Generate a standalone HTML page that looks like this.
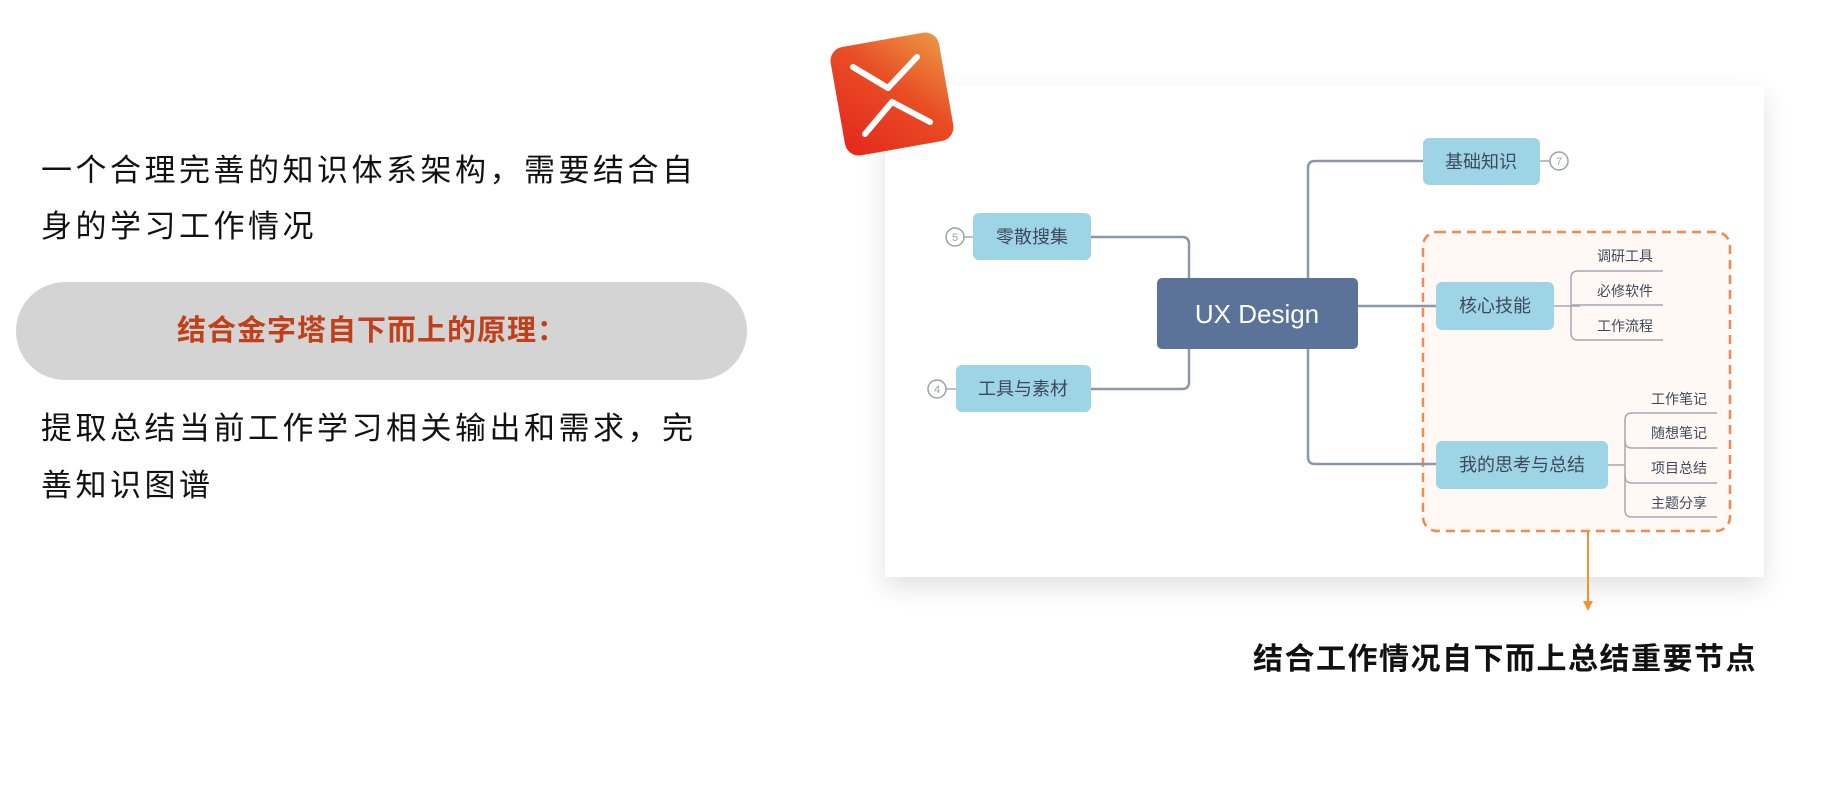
<!DOCTYPE html>
<html><head><meta charset="utf-8"><style>
body{margin:0;width:1848px;height:806px;background:#fff;overflow:hidden;position:relative;font-family:"Liberation Sans","Noto Sans CJK SC",sans-serif;}
.t{position:absolute;left:41px;font-size:31px;color:#111;white-space:nowrap;line-height:40px;}
.t span{display:inline-block;width:34.5px;}
.pill{position:absolute;left:16px;top:282px;width:731px;height:98px;border-radius:49px;background:#d4d4d4;}
.pt{position:absolute;left:177px;top:311px;font-size:29px;font-weight:bold;color:#c0401a;white-space:nowrap;line-height:40px;}
.pt span{display:inline-block;width:30px;}
.bt span{display:inline-block;width:31.5px;}
.card{position:absolute;left:885px;top:85px;width:879px;height:492px;background:#fff;box-shadow:0 10px 24px rgba(0,0,0,0.12);}
.bt{position:absolute;left:1253px;top:640px;font-size:30px;font-weight:bold;color:#111;white-space:nowrap;line-height:40px;}
</style></head><body>
<div class="t" style="top:151px"><span>一</span><span>个</span><span>合</span><span>理</span><span>完</span><span>善</span><span>的</span><span>知</span><span>识</span><span>体</span><span>系</span><span>架</span><span>构</span><span>，</span><span>需</span><span>要</span><span>结</span><span>合</span><span>自</span></div>
<div class="t" style="top:207px"><span>身</span><span>的</span><span>学</span><span>习</span><span>工</span><span>作</span><span>情</span><span>况</span></div>
<div class="pill"></div>
<div class="pt"><span>结</span><span>合</span><span>金</span><span>字</span><span>塔</span><span>自</span><span>下</span><span>而</span><span>上</span><span>的</span><span>原</span><span>理</span><span>：</span></div>
<div class="t" style="top:409px"><span>提</span><span>取</span><span>总</span><span>结</span><span>当</span><span>前</span><span>工</span><span>作</span><span>学</span><span>习</span><span>相</span><span>关</span><span>输</span><span>出</span><span>和</span><span>需</span><span>求</span><span>，</span><span>完</span></div>
<div class="t" style="top:466px"><span>善</span><span>知</span><span>识</span><span>图</span><span>谱</span></div>
<div class="card"></div>
<svg width="1848" height="806" style="position:absolute;left:0;top:0" font-family="Liberation Sans, Noto Sans CJK SC, sans-serif">
<defs><linearGradient id="g" x1="1" y1="0" x2="0" y2="1"><stop offset="0" stop-color="#ec9a45"/><stop offset="0.45" stop-color="#e84d25"/><stop offset="1" stop-color="#e4261c"/></linearGradient></defs>
<g transform="rotate(-10 892 94)">
<rect x="837" y="39" width="110" height="110" rx="14" fill="url(#g)"/>
</g>
<path d="M853 67 L888 88 L917 57" stroke="#fff" stroke-width="6" fill="none" stroke-linecap="round" stroke-linejoin="round"/>
<path d="M865 134 L892 102 L930 122" stroke="#fff" stroke-width="6" fill="none" stroke-linecap="round" stroke-linejoin="round"/>
<rect x="1423" y="232" width="307" height="299" rx="14" fill="#fff8f4" stroke="#f5884a" stroke-width="2.5" stroke-dasharray="9 6"/>
<g stroke="#8e97a8" stroke-width="2.5" fill="none">
<path d="M1091 237 H1182 Q1189 237 1189 244 V278"/>
<path d="M1091 389 H1182 Q1189 389 1189 382 V349"/>
<path d="M1308 278 V168 Q1308 161 1315 161 H1423"/>
<path d="M1308 349 V457 Q1308 464 1315 464 H1436"/>
<path d="M1358 306 H1436"/>
</g>
<g stroke="#a3a8b3" stroke-width="1.5" fill="none">
<path d="M1554 306 H1580"/>
<path d="M1663 271 H1578 Q1571 271 1571 278 V333 Q1571 340 1578 340 H1663"/>
<path d="M1571 305 H1663"/>
<path d="M1608 465 H1625"/>
<path d="M1717 413 H1632 Q1625 413 1625 420 V510 Q1625 517 1632 517 H1717"/>
<path d="M1625 441 Q1625 448 1632 448 H1717"/>
<path d="M1625 476 Q1625 483 1632 483 H1717"/>
<path d="M1540 161 H1550"/>
<path d="M964 237 H973"/><path d="M946 389 H956"/>
</g>
<g fill="#fff" stroke="#9aa0ab" stroke-width="1.5">
<circle cx="1559" cy="161" r="9"/><circle cx="955" cy="237" r="9"/><circle cx="937" cy="389" r="9"/>
</g>
<g font-size="11" fill="#9aa0ab" text-anchor="middle">
<text x="1559" y="165">7</text><text x="955" y="241">5</text><text x="937" y="393">4</text>
</g>
<rect x="1157" y="278" width="201" height="71" rx="5" fill="#5b7399"/>
<text x="1257" y="323" font-size="26" fill="#fff" text-anchor="middle">UX Design</text>
<g fill="#9dd4e6">
<rect x="1423" y="138" width="117" height="47" rx="6"/>
<rect x="973" y="213" width="118" height="47" rx="6"/>
<rect x="956" y="365" width="135" height="47" rx="6"/>
<rect x="1436" y="282" width="118" height="48" rx="6"/>
<rect x="1436" y="441" width="172" height="48" rx="6"/>
</g>
<g font-size="18" fill="#3e4a5c" text-anchor="middle">
<text x="1481" y="168">基础知识</text>
<text x="1032" y="243">零散搜集</text>
<text x="1023" y="395">工具与素材</text>
<text x="1495" y="312">核心技能</text>
<text x="1522" y="471">我的思考与总结</text>
</g>
<g font-size="14" fill="#3e4a5c">
<text x="1597" y="261">调研工具</text>
<text x="1597" y="296">必修软件</text>
<text x="1597" y="331">工作流程</text>
<text x="1651" y="404">工作笔记</text>
<text x="1651" y="438">随想笔记</text>
<text x="1651" y="473">项目总结</text>
<text x="1651" y="508">主题分享</text>
</g>
<path d="M1588 531 V603" stroke="#f5922e" stroke-width="2"/>
<path d="M1583 601 L1593 601 L1588 611 Z" fill="#f5922e"/>
</svg>
<div class="bt"><span>结</span><span>合</span><span>工</span><span>作</span><span>情</span><span>况</span><span>自</span><span>下</span><span>而</span><span>上</span><span>总</span><span>结</span><span>重</span><span>要</span><span>节</span><span>点</span></div>
</body></html>
